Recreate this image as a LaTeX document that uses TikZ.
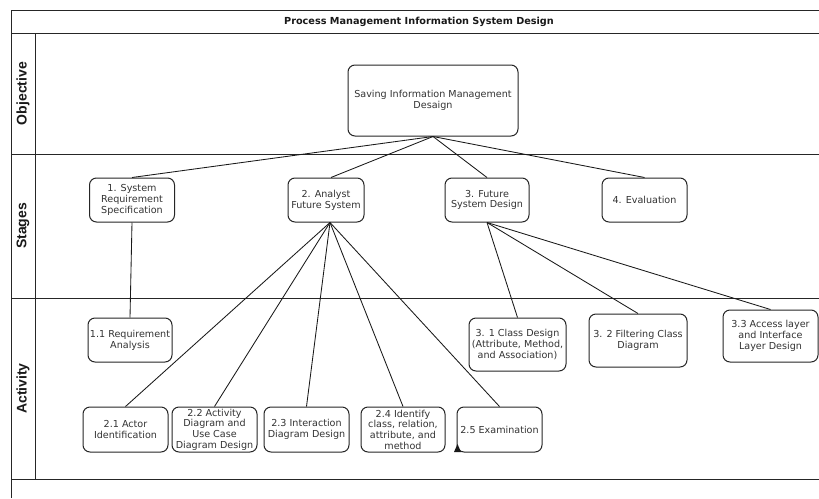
\documentclass[tikz,border=0pt]{standalone}
\usepackage{fontspec}
\setmainfont{DejaVu Sans}
\newfontfamily\lanefont{Liberation Sans}
\begin{document}
\begin{tikzpicture}[x=1pt,y=-1pt,
  frameline/.style={draw=black!85, line width=0.95pt},
  taskbox/.style={draw=black!85, line width=1pt, rounded corners=7pt, fill=white,
    align=center, inner sep=0pt, text=black!80,
    font=\fontsize{9.6}{10.7}\selectfont},
  link/.style={draw=black!90, line width=0.85pt},
  lanelabel/.style={rotate=90, font=\lanefont\fontsize{14}{16}\selectfont\bfseries, text=black!90},
  titletext/.style={font=\fontsize{9.7}{11}\selectfont\bfseries, text=black!90}
]
\useasboundingbox (0,0) rectangle (819,498);

% pool frame and lanes
\draw[frameline] (11,498) -- (11,10) -- (830,10);
\draw[frameline] (11,33) -- (830,33);
\draw[frameline] (11,154) -- (830,154);
\draw[frameline] (11,298) -- (830,298);
\draw[frameline] (11,479) -- (830,479);
\draw[frameline] (35,33) -- (35,479);

\node[titletext] (title) at (419,21.5) {Process Management Information System Design};
\node[lanelabel] (lobj) at (23,93.5) {Objective};
\node[lanelabel] (lstg) at (23,226) {Stages};
\node[lanelabel] (lact) at (23,388.5) {Activity};

% objective
\node[taskbox, minimum width=170pt, minimum height=71pt] (obj) at (433,100.5)
  {Saving Information Management\\Desaign};

% stages
\node[taskbox, minimum width=85pt, minimum height=44pt] (s1) at (132,200)
  {1. System\\Requirement\\Specification};
\node[taskbox, minimum width=76pt, minimum height=44pt] (s2) at (326,200)
  {2. Analyst\\Future System};
\node[taskbox, minimum width=84pt, minimum height=44pt] (s3) at (487,200)
  {3. Future\\System Design};
\node[taskbox, minimum width=85pt, minimum height=44pt] (s4) at (644.5,200)
  {4. Evaluation};

% activities
\node[taskbox, minimum width=84pt, minimum height=44pt] (a11) at (130,340)
  {1.1 Requirement\\Analysis};
\node[taskbox, minimum width=85pt, minimum height=45pt] (a21) at (125.5,429.5)
  {2.1 Actor\\Identification};
\node[taskbox, minimum width=85pt, minimum height=45pt] (a22) at (214.5,429.5)
  {2.2 Activity\\Diagram and\\Use Case\\Diagram Design};
\node[taskbox, minimum width=85pt, minimum height=45pt] (a23) at (306.5,429.5)
  {2.3 Interaction\\Diagram Design};
\node[taskbox, minimum width=84pt, minimum height=45pt] (a24) at (403,429.5)
  {2.4 Identify\\class, relation,\\attribute, and\\method};
\node[taskbox, minimum width=85pt, minimum height=45pt] (a25) at (499.5,429.5)
  {2.5 Examination};
\node[taskbox, minimum width=97pt, minimum height=53pt] (a31) at (517.5,344.5)
  {3. 1 Class Design\\(Attribute, Method,\\and Association)};
\node[taskbox, minimum width=98pt, minimum height=53pt] (a32) at (638,340.5)
  {3. 2 Filtering Class\\Diagram};
\node[taskbox, minimum width=95pt, minimum height=52pt] (a33) at (770.5,336)
  {3.3 Access layer\\and Interface\\Layer Design};

% connectors
\draw[link] (obj.south) -- (s1.north);
\draw[link] (obj.south) -- ([xshift=5pt]s2.north);
\draw[link] (obj.south) -- (s3.north);
\draw[link] (obj.south) -- (s4.north);

\draw[link] (s1.south) -- (a11.north);
\foreach \t in {a21,a22,a23,a24,a25}
  \draw[link] ([xshift=4pt]s2.south) -- (\t.north);
\foreach \t in {a31,a32,a33}
  \draw[link] (s3.south) -- (\t.north);

% small marker at the corner of the examination box
\fill[black!90] ([xshift=-2.5pt,yshift=0.5pt]a25.south west) -- ++(7,0) -- ++(-3.5,-8) -- cycle;
\end{tikzpicture}
\end{document}
